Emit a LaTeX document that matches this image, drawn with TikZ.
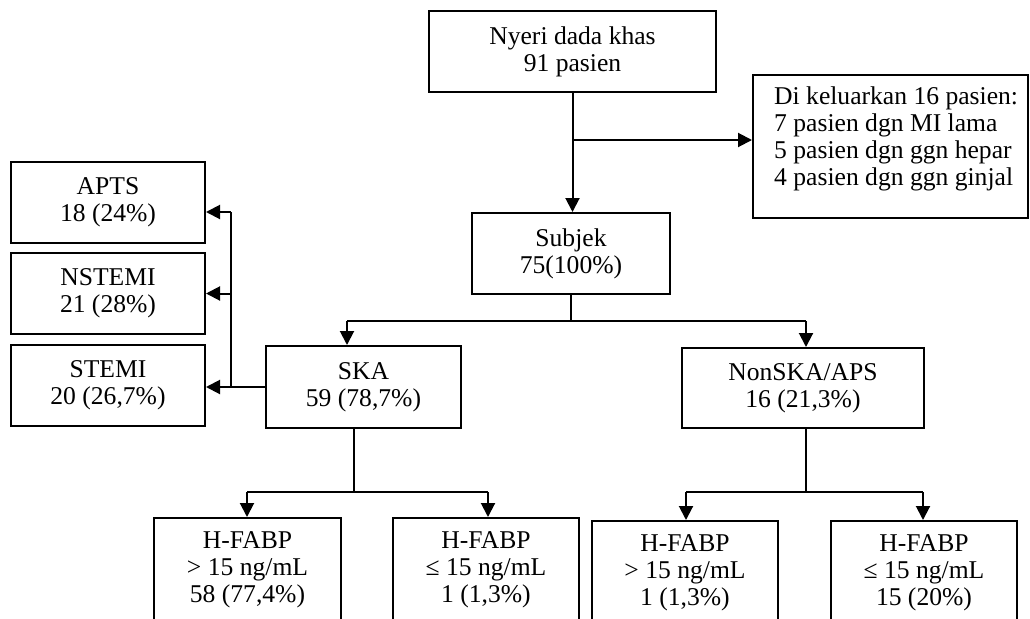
\documentclass[tikz,border=0pt]{standalone}
\usepackage{fontspec}
\setmainfont{Liberation Serif}
\usetikzlibrary{arrows.meta}
\begin{document}
\begin{tikzpicture}[x=1pt,y=-1pt,
  box/.style={draw, line width=2pt, rectangle, align=center, inner sep=0pt,
    font=\fontsize{25.6}{27}\selectfont},
  txt/.style={inner sep=0pt, align=left, font=\fontsize{25.6}{27}\selectfont},
  arr/.style={line width=2pt, -{Triangle[width=14pt,length=14pt]}},
  ln/.style={line width=2pt}]
\clip (0,0) rectangle (1030,618);
\fill[white] (0,0) rectangle (1030,618);
% boxes
\node[box, minimum width=287, minimum height=81] (top) at (572.5,51.5) {Nyeri dada khas\\91 pasien};
\node[box, minimum width=275, minimum height=143] (excl) at (890.5,146.5) {};
\node[txt, anchor=west] (excltxt) at (774,139) {Di keluarkan 16 pasien:\\7 pasien dgn MI lama\\5 pasien dgn ggn hepar\\4 pasien dgn ggn ginjal};
\node[box, minimum width=198, minimum height=81] (subjek) at (571,253.5) {Subjek\\75(100\%)};
\node[box, minimum width=194, minimum height=81] (apts) at (108,202.5) {APTS\\18 (24\%)};
\node[box, minimum width=194, minimum height=81] (nstemi) at (108,293.5) {NSTEMI\\21 (28\%)};
\node[box, minimum width=194, minimum height=81] (stemi) at (108,385.5) {STEMI\\20 (26,7\%)};
\node[box, minimum width=195, minimum height=82] (ska) at (363.5,387) {SKA\\59 (78,7\%)};
\node[box, minimum width=242, minimum height=80] (nonska) at (803,388) {NonSKA/APS\\16 (21,3\%)};
\node[box, minimum width=187, minimum height=104] (h1) at (247.5,570) {H-FABP\\> 15 ng/mL\\58 (77,4\%)};
\node[box, minimum width=186, minimum height=104] (h2) at (486,570) {H-FABP\\≤ 15 ng/mL\\1 (1,3\%)};
\node[box, minimum width=186, minimum height=104] (h3) at (685,573) {H-FABP\\> 15 ng/mL\\1 (1,3\%)};
\node[box, minimum width=186, minimum height=104] (h4) at (924,573) {H-FABP\\≤ 15 ng/mL\\15 (20\%)};
% coordinates
\coordinate (j1) at (572,140);
\coordinate (j2) at (571,321);
\coordinate (j2l) at (347,321);
\coordinate (j2r) at (806,321);
\coordinate (j3) at (231,387);
\coordinate (j3t) at (231,212);
\coordinate (j4) at (354,492);
\coordinate (j4l) at (247,492);
\coordinate (j4r) at (488,492);
\coordinate (j5) at (806,492);
\coordinate (j5l) at (686,492);
\coordinate (j5r) at (923,492);
% connectors
\draw[arr] (top.south) -- (top.south |- subjek.north);
\draw[arr] (j1) -- (excl.west |- j1);
\draw[ln] (subjek.south) -- (j2);
\draw[ln] (j2l) -- (j2r);
\draw[arr] (j2l) -- (j2l |- ska.north);
\draw[arr] (j2r) -- (j2r |- nonska.north);
\draw[ln] (ska.west |- j3) -- (j3) -- (j3t);
\draw[arr] (j3t) -- (apts.east |- j3t);
\draw[arr] (j3 |- nstemi.east) -- (nstemi.east);
\draw[arr] (j3) -- (stemi.east |- j3);
\draw[ln] (j4 |- ska.south) -- (j4);
\draw[ln] (j4l) -- (j4r);
\draw[arr] (j4l) -- (j4l |- h1.north);
\draw[arr] (j4r) -- (j4r |- h2.north);
\draw[ln] (j5 |- nonska.south) -- (j5);
\draw[ln] (j5l) -- (j5r);
\draw[arr] (j5l) -- (j5l |- h3.north);
\draw[arr] (j5r) -- (j5r |- h4.north);
\end{tikzpicture}
\end{document}
